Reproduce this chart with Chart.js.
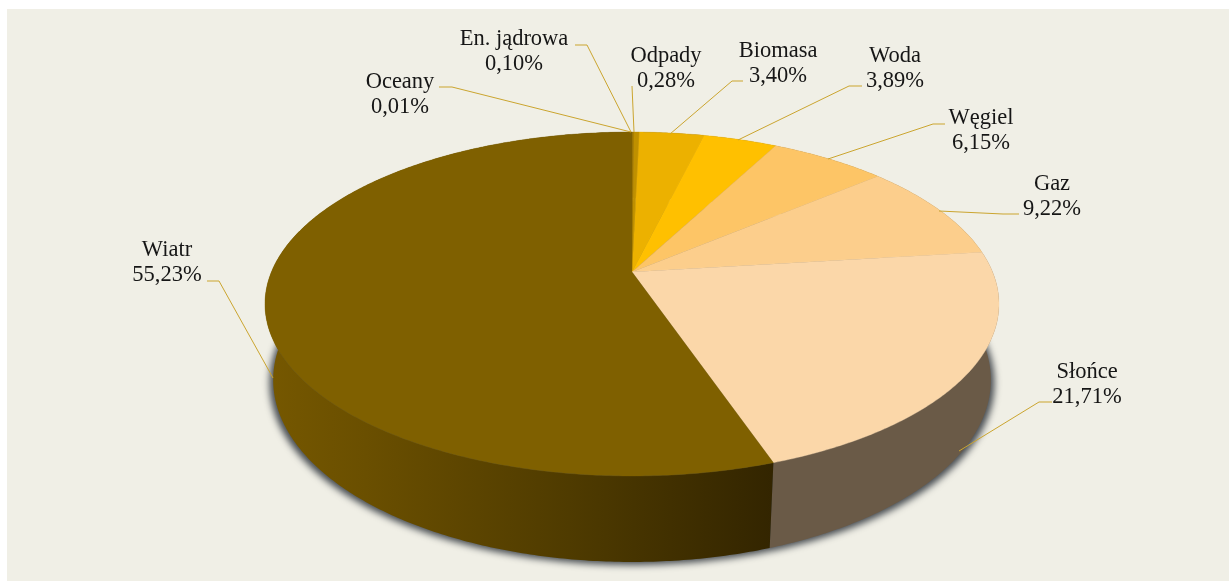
<!DOCTYPE html>
<html lang="pl">
<head>
<meta charset="utf-8">
<title>Struktura energii</title>
<script src="https://cdn.jsdelivr.net/npm/chart.js@4/dist/chart.umd.min.js"></script>
<style>
  html, body { margin: 0; background: #fff; }
  canvas { display: block; }
</style>
</head>
<body>
<canvas id="pie" width="1229" height="581"></canvas>
<script>
const labels = ["Oceany", "En. jądrowa", "Odpady", "Biomasa", "Woda", "Węgiel", "Gaz", "Słońce", "Wiatr"];
const values = [0.01, 0.10, 0.28, 3.40, 3.89, 6.15, 9.22, 21.71, 55.23];
const topColors = ["#7f6000", "#a67c00", "#bf9000", "#ecb100", "#ffc000", "#fdc566", "#fcce8c", "#fbd7a9", "#7f6000"];

// label layout: text centre and leader polyline for each slice
const labelBoxes = [
  { x: 400, y: 82, leader: [[439, 87], [452, 87], [631, 132]] },
  { x: 514, y: 39, leader: [[575, 45], [587, 45], [631, 132]] },
  { x: 666, y: 56, leader: [[632, 86], [634, 132]] },
  { x: 778, y: 51, leader: [[743, 81], [732, 81], [670, 134]] },
  { x: 895, y: 56, leader: [[862, 86], [849, 86], [738, 140]] },
  { x: 981, y: 118, leader: [[945, 124], [933, 124], [828, 159]] },
  { x: 1052, y: 184, leader: [[1019, 214], [1003, 214], [939, 211]] },
  { x: 1087, y: 372, leader: [[1052, 402], [1039, 402], [959, 451]] },
  { x: 167, y: 250, leader: [[207, 281], [219, 281], [273, 378]] }
];

// perspective camera for the tilted disc
const hub = { x: 632, y: 272 };
const cam = { a: 360.6, b: 166, p: 0.186, height: 76.4, depth: 0.022 };

function project(angle, lower) {
  const u = Math.cos(angle);
  const v = Math.sin(angle);
  const w = 1 - cam.p * v + (lower ? cam.depth : 0);
  return {
    x: hub.x + cam.a * u / w,
    y: hub.y + (cam.b * v + (lower ? cam.height : 0)) / w
  };
}

function traceRim(ctx, from, to, lower) {
  const steps = Math.max(2, Math.ceil(Math.abs(to - from) / 0.01));
  for (let i = 0; i <= steps; i++) {
    const p = project(from + (to - from) * i / steps, lower);
    ctx.lineTo(p.x, p.y);
  }
}

function sideFill(ctx, index) {
  if (index === 8) {
    const g = ctx.createLinearGradient(264, 0, 772, 0);
    g.addColorStop(0, "#765800");
    g.addColorStop(0.2, "#6a4f00");
    g.addColorStop(0.6, "#4f3b00");
    g.addColorStop(1, "#332500");
    return g;
  }
  return index === 7 ? "#6a5a47" : "#7a6a50";
}

const disc3d = {
  id: "disc3d",
  beforeDraw(chart) {
    const ctx = chart.ctx;
    ctx.save();
    ctx.fillStyle = "#ffffff";
    ctx.fillRect(0, 0, chart.width, chart.height);
    ctx.fillStyle = "#f0efe6";
    ctx.fillRect(7, 9, chart.width - 7, chart.height - 9);
    ctx.restore();
  },
  // slices are painted here from the angles the pie controller worked out
  beforeDatasetDraw(chart, args) {
    const ctx = chart.ctx;
    const arcs = args.meta.data;

    // blurred shadow only: the casting shape itself sits off the canvas
    ctx.save();
    ctx.shadowOffsetX = 2000;
    ctx.shadowColor = "rgba(70,75,80,1)";
    ctx.shadowBlur = 7;
    ctx.translate(-2000 + hub.x, 379);
    ctx.scale(1.01, 1);
    ctx.translate(-hub.x, -376);
    ctx.beginPath();
    traceRim(ctx, 0, Math.PI * 2, true);
    ctx.closePath();
    ctx.fill();
    ctx.restore();

    arcs.forEach((arc, i) => {
      ctx.fillStyle = sideFill(ctx, i);
      ctx.beginPath();
      traceRim(ctx, arc.startAngle, arc.endAngle, false);
      traceRim(ctx, arc.endAngle, arc.startAngle, true);
      ctx.closePath();
      ctx.fill();
    });

    arcs.forEach((arc, i) => {
      ctx.fillStyle = topColors[i];
      ctx.strokeStyle = topColors[i];
      ctx.lineWidth = 0.4;
      ctx.beginPath();
      ctx.moveTo(hub.x, hub.y);
      traceRim(ctx, arc.startAngle, arc.endAngle, false);
      ctx.closePath();
      ctx.fill();
      ctx.stroke();
    });
    return false;
  },
  afterDraw(chart) {
    const ctx = chart.ctx;
    ctx.save();
    ctx.strokeStyle = "#cba52f";
    ctx.lineWidth = 1;
    labelBoxes.forEach((box) => {
      ctx.beginPath();
      box.leader.forEach((pt, n) => (n ? ctx.lineTo(pt[0], pt[1]) : ctx.moveTo(pt[0], pt[1])));
      ctx.stroke();
    });
    ctx.fillStyle = "#161616";
    ctx.font = '22.5px "Liberation Serif"';
    ctx.textAlign = "center";
    ctx.textBaseline = "middle";
    labelBoxes.forEach((box, i) => {
      ctx.fillText(labels[i], box.x, box.y);
      ctx.fillText(values[i].toFixed(2).replace(".", ",") + "%", box.x, box.y + 25);
    });
    ctx.restore();
  }
};

new Chart(document.getElementById("pie"), {
  type: "pie",
  data: {
    labels: labels,
    datasets: [{ data: values, backgroundColor: topColors, borderWidth: 0 }]
  },
  options: {
    responsive: false,
    animation: false,
    plugins: { legend: { display: false }, tooltip: { enabled: false } }
  },
  plugins: [disc3d]
});
</script>
</body>
</html>
